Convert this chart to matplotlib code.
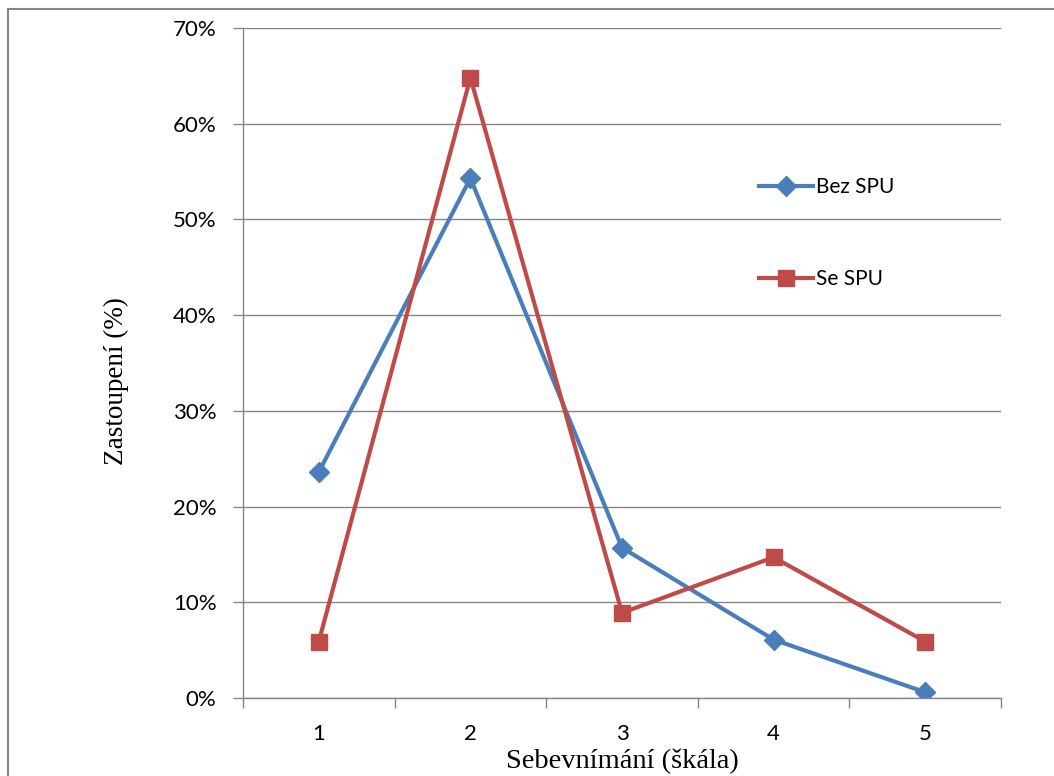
import matplotlib.pyplot as plt
from matplotlib.patches import Rectangle
from matplotlib.ticker import FixedLocator, PercentFormatter

# data
categories = [1, 2, 3, 4, 5]
bez_spu = [23.6, 54.3, 15.7, 6.1, 0.6]
se_spu = [5.9, 64.8, 8.9, 14.7, 5.9]
yticks = [0, 10, 20, 30, 40, 50, 60, 70]

blue = '#4A7EBB'
red = '#BE4B48'
grey = '#868686'
tick_font = 'Lato'
label_font = 'Liberation Serif'

fig = plt.figure(figsize=(10.54, 7.76), dpi=100)
# outer frame of the chart object
fig.patches.append(Rectangle((8 / 1054, -0.05), 1.1, 1 - 9 / 776 + 0.05,
                             transform=fig.transFigure, fill=False,
                             edgecolor=grey, linewidth=1.5))

ax = fig.add_axes([243 / 1054, 78 / 776, 758 / 1054, 670 / 776])

ax.plot(categories, bez_spu, color=blue, linewidth=3, marker='D',
        markersize=10, label='Bez SPU')
ax.plot(categories, se_spu, color=red, linewidth=3, marker='s',
        markersize=11.5, label='Se SPU')

ax.set_xlim(0.5, 5.5)
ax.set_ylim(0, 70)
ax.set_yticks(yticks)
ax.yaxis.set_major_formatter(PercentFormatter(decimals=0))
ax.grid(axis='y', color=grey, linewidth=1)
ax.set_axisbelow(True)

# category boundaries get tick marks, labels sit in the middle
ax.set_xticks(categories)
ax.set_xticklabels([str(c) for c in categories])
ax.xaxis.set_minor_locator(FixedLocator([0.5, 1.5, 2.5, 3.5, 4.5, 5.5]))
ax.tick_params(axis='x', which='major', length=0, pad=19)
ax.tick_params(axis='x', which='minor', length=7, color=grey, width=1)
ax.tick_params(axis='y', length=7, color=grey, width=1, pad=12)
for lab in ax.get_xticklabels() + ax.get_yticklabels():
    lab.set_fontfamily(tick_font)
    lab.set_fontsize(16)

for s in ['top', 'right']:
    ax.spines[s].set_visible(False)
for s in ['left', 'bottom']:
    ax.spines[s].set_color(grey)
    ax.spines[s].set_linewidth(1)

ax.set_xlabel('Sebevnímání (škála)', fontfamily=label_font, fontsize=20.5,
              labelpad=3)
ax.set_ylabel('Zastoupení (%)', fontfamily=label_font, fontsize=19.5)
ax.yaxis.set_label_coords(-0.15, 0.473)

ax.legend(loc='upper left', bbox_to_anchor=(0.67, 0.79), frameon=False,
          prop={'family': tick_font, 'size': 15}, labelspacing=3.45,
          handlelength=2.6, handletextpad=0.15, borderaxespad=0)

fig.savefig('out.png', dpi=100)
